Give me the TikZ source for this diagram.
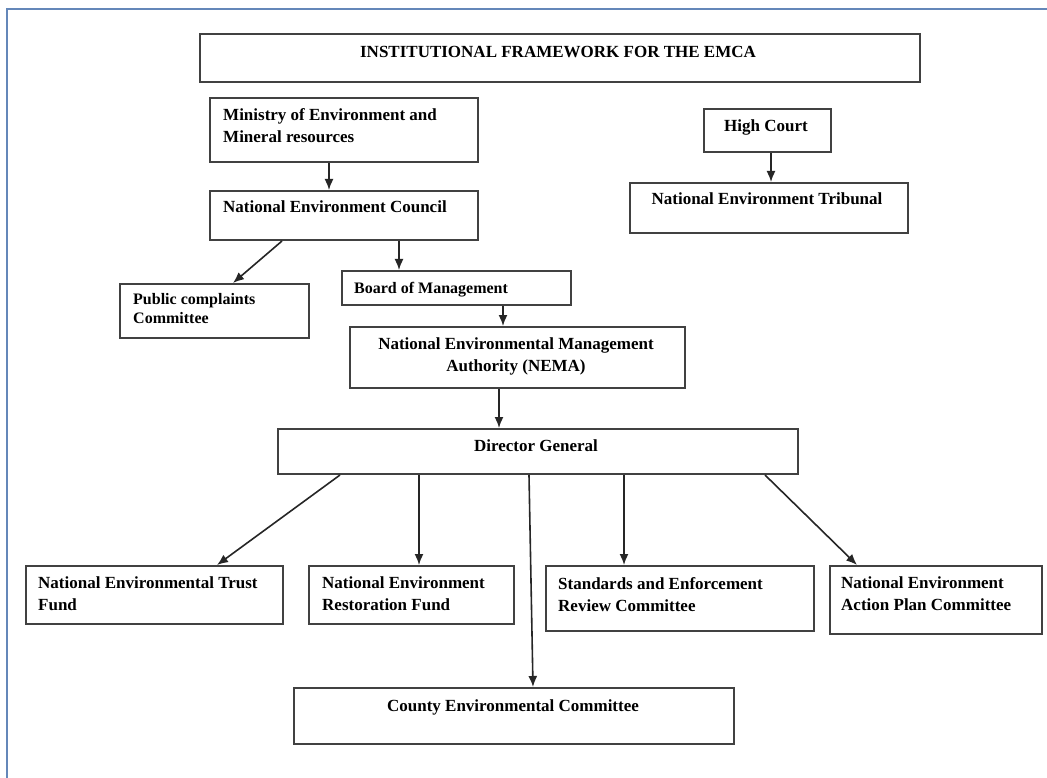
\documentclass[tikz,border=0pt]{standalone}
\usepackage{fontspec}
\setmainfont{Liberation Serif}
\usetikzlibrary{arrows.meta}
\definecolor{boxgray}{RGB}{65,65,65}
\definecolor{frameblue}{RGB}{100,135,185}
\tikzset{
    box/.style = {draw=boxgray, line width=2pt, anchor=north west, inner sep=0pt},
    lbl/.style = {inner sep=0pt, align=left, font=\bfseries\fontsize{17}{22}\selectfont},
    lblsmall/.style = {inner sep=0pt, align=left, font=\bfseries\fontsize{16}{19}\selectfont},
    arr/.style = {-{Latex[length=11pt,width=9pt]}, line width=1.6pt, draw=black!85},
}

\begin{document}
\begin{tikzpicture}[x=1pt, y=-1pt]
    \useasboundingbox[fill=white] (0,0) rectangle (1047,778);
    \draw [frameblue, line width=2pt] (7,778) -- (7,9) -- (1047,9);

    % top
    \node[box, minimum width=720pt, minimum height=48pt] (title) at (199,33) {};
    \node[lbl, anchor=north] (title-txt) at (558,46) {INSTITUTIONAL FRAMEWORK FOR THE EMCA};

    \node[box, minimum width=268pt, minimum height=64pt] (ministry) at (209,97) {};
    \node[lbl, anchor=north west] (ministry-txt) at (223,108) {Ministry of Environment and\\Mineral resources};

    \node[box, minimum width=268pt, minimum height=49pt] (nec) at (209,190) {};
    \node[lbl, anchor=north west] (nec-txt) at (223,201) {National Environment Council};

    \node[box, minimum width=127pt, minimum height=43pt] (court) at (703,108) {};
    \node[lbl, anchor=north] (court-txt) at (766,120) {High Court};

    \node[box, minimum width=278pt, minimum height=50pt] (tribunal) at (629,182) {};
    \node[lbl, anchor=north] (tribunal-txt) at (767,193) {National Environment Tribunal};

    % middle
    \node[box, minimum width=189pt, minimum height=54pt] (public) at (119,283) {};
    \node[lblsmall, anchor=north west] (public-txt) at (133,293) {Public complaints\\Committee};

    \node[box, minimum width=229pt, minimum height=34pt] (board) at (341,270) {};
    \node[lblsmall, anchor=north west] (board-txt) at (354,282) {Board of Management};

    \node[box, minimum width=335pt, minimum height=61pt] (nema) at (349,326) {};
    \node[lbl, anchor=north, align=center] (nema-txt) at (516,338) {National Environmental Management\\Authority (NEMA)};

    \node[box, minimum width=520pt, minimum height=45pt] (dg) at (277,428) {};
    \node[lbl, anchor=north] (dg-txt) at (536,440) {Director General};

    % bottom
    \node[box, minimum width=257pt, minimum height=58pt] (trust) at (25,565) {};
    \node[lbl, anchor=north west] (trust-txt) at (38,577) {National Environmental Trust\\Fund};

    \node[box, minimum width=205pt, minimum height=58pt] (restore) at (308,565) {};
    \node[lbl, anchor=north west] (restore-txt) at (322,577) {National Environment\\Restoration Fund};

    \node[box, minimum width=268pt, minimum height=65pt] (serc) at (545,565) {};
    \node[lbl, anchor=north west] (serc-txt) at (558,577) {Standards and Enforcement\\Review Committee};

    \node[box, minimum width=212pt, minimum height=68pt] (neap) at (829,565) {};
    \node[lbl, anchor=north west] (neap-txt) at (841,577) {National Environment\\Action Plan Committee};

    \node[box, minimum width=440pt, minimum height=56pt] (county) at (293,687) {};
    \node[lbl, anchor=north] (county-txt) at (513,699) {County Environmental Committee};

    \draw [arr] ([xshift=120pt]ministry.south west) -- ([xshift=120pt]nec.north west);
    \draw [arr] ([xshift=73pt]nec.south west) -- ([xshift=114pt]public.north west);
    \draw [arr] ([xshift=190pt]nec.south west) -- ([xshift=58pt]board.north west);
    \draw [arr] ([xshift=162pt]board.south west) -- ([xshift=154pt]nema.north west);
    \draw [arr] ([xshift=150pt]nema.south west) -- ([xshift=222pt]dg.north west);
    \draw [arr] ([xshift=68pt]court.south west) -- ([xshift=142pt]tribunal.north west);

    \draw [arr] ([xshift=63pt]dg.south west) -- ([xshift=192pt]trust.north west);
    \draw [arr] ([xshift=142pt]dg.south west) -- ([xshift=111pt]restore.north west);
    \draw [arr] ([xshift=252pt]dg.south west) -- ([xshift=240pt]county.north west);
    \draw [arr] ([xshift=347pt]dg.south west) -- ([xshift=79pt]serc.north west);
    \draw [arr] ([xshift=488pt]dg.south west) -- ([xshift=28pt]neap.north west);

\end{tikzpicture}
\end{document}
